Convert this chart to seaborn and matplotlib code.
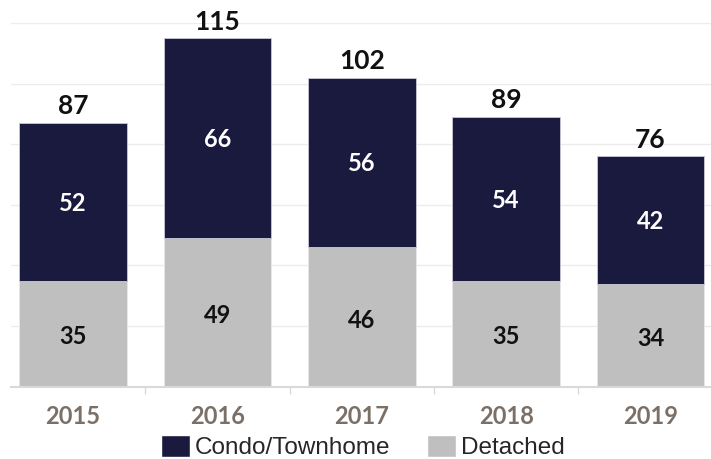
import matplotlib
matplotlib.use("Agg")
import matplotlib.pyplot as plt
import seaborn as sns
import pandas as pd
import numpy as np
from matplotlib.patches import Patch

years = ["2015", "2016", "2017", "2018", "2019"]
condo = [52, 66, 56, 54, 42]
detached = [35, 49, 46, 35, 34]
totals = [87, 115, 102, 89, 76]

navy = "#1a1a3e"
gray = "#bfbfbf"

sns.set_theme(style="white")
plt.rcParams['font.family'] = ['Lato', 'DejaVu Sans']

df = pd.DataFrame({"year": years, "condo": condo, "detached": detached, "total": totals})

fig = plt.figure(figsize=(7.11, 4.59), dpi=100)
ax = fig.add_axes([11/711, 1 - 386.7/459, 700/711, (386.7 - 23)/459])

sns.barplot(data=df, x="year", y="detached", color=gray, width=0.745, ax=ax,
            saturation=1, edgecolor="#e8e8e8", linewidth=0.6)
sns.barplot(data=df, x="year", y="condo", bottom=df["detached"], color=navy, width=0.745,
            ax=ax, saturation=1, edgecolor="#c8c8d8", linewidth=0.6)

ax.set_ylim(0, 120)
ax.set_xlim(-0.429, 4.419)
ax.set_yticks(np.arange(0, 121, 20))
ax.set_yticklabels([])
ax.yaxis.grid(True, color="#ececec", linewidth=1)
ax.set_axisbelow(True)
for s in ["top", "right", "left"]:
    ax.spines[s].set_visible(False)
ax.spines["bottom"].set_color("#d9d9d9")
ax.spines["bottom"].set_linewidth(1.5)
ax.set_xlabel("")
ax.set_ylabel("")
ax.tick_params(axis="y", length=0)
ax.set_xticks(range(len(years)))
ax.set_xticklabels(years, fontsize=17, fontweight="bold", color="#7a7068")
ax.tick_params(axis="x", length=0, pad=13)
ax.set_xticks(np.arange(0.5, len(years) - 0.5, 1), minor=True)
ax.tick_params(axis="x", which="minor", length=5, color="#d9d9d9", width=1, bottom=True)

for i in range(len(years)):
    d = df["detached"][i]
    c = df["condo"][i]
    t = df["total"][i]
    ax.text(i, d / 2 - 1, str(d), ha="center", va="center", fontsize=17,
            fontweight="bold", color="#111111")
    ax.text(i, d + c / 2 - 0.5, str(c), ha="center", va="center", fontsize=17,
            fontweight="bold", color="white")
    ax.text(i, t + 1.5, str(t), ha="center", va="bottom", fontsize=19,
            fontweight="bold", color="#111111")

handles = [Patch(facecolor=navy, label="Condo/Townhome"),
           Patch(facecolor=gray, label="Detached")]
fig.legend(handles=handles, loc="center", bbox_to_anchor=(363/711, 1 - 447/459),
           ncol=2, frameon=False, prop={"family": "Liberation Sans", "size": 17.5},
           handlelength=1.2, handleheight=1.0, handletextpad=0.2, columnspacing=1.5,
           borderaxespad=0, borderpad=0)

fig.savefig("out.png", dpi=100)
